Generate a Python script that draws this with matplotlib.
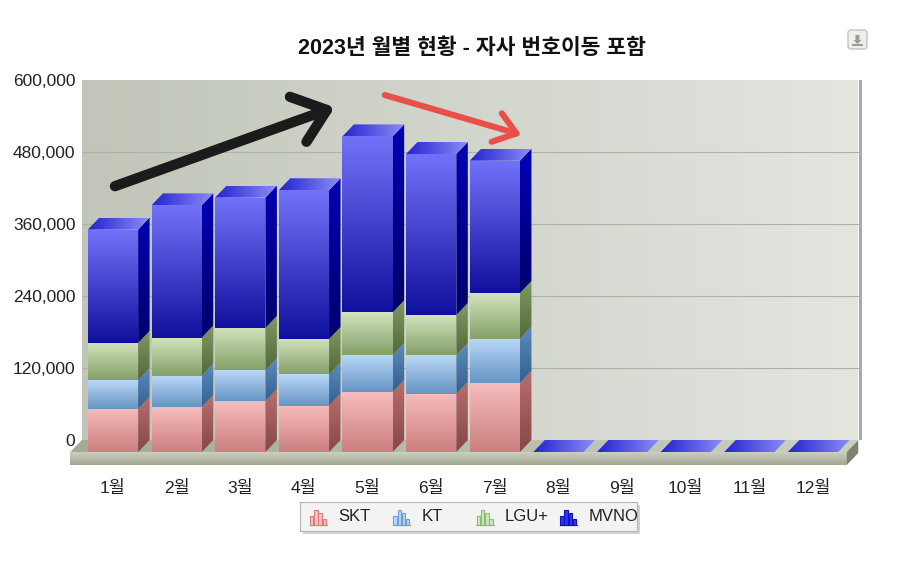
import numpy as np
import matplotlib
matplotlib.use("Agg")
import matplotlib.pyplot as plt
from matplotlib.patches import Polygon, Rectangle, FancyBboxPatch
from matplotlib.colors import LinearSegmentedColormap

plt.rcParams['font.family'] = ['Liberation Sans', 'Noto Sans CJK KR']

# ---- data ----
months = ['1월', '2월', '3월', '4월', '5월', '6월', '7월', '8월', '9월', '10월', '11월', '12월']
skt = [72300, 75000, 85000, 77300, 100000, 96700, 115000, 0, 0, 0, 0, 0]
kt = [47200, 52300, 51100, 52200, 61700, 65000, 73800, 0, 0, 0, 0, 0]
lgu = [62200, 63400, 70600, 58800, 71000, 66600, 76200, 0, 0, 0, 0, 0]
mvno = [189000, 220400, 217300, 247900, 293300, 268400, 220500, 0, 0, 0, 0, 0]
series_names = ['SKT', 'KT', 'LGU+', 'MVNO']
y_ticks = [0, 120000, 240000, 360000, 480000, 600000]
title = '2023년 월별 현황 - 자사 번호이동 포함'

# colours: front (top, bottom), side (top, bottom), legend icon (fill, edge)
styles = [
    dict(front=('#f6bcbc', '#cc7f7f'), side=('#b86e6e', '#874646'), icon=('#f5c4c4', '#dc7a7a')),
    dict(front=('#bad9f8', '#6694c4'), side=('#5a8cc0', '#34608c'), icon=('#bcd7f3', '#6aa0dc')),
    dict(front=('#d3e3bd', '#84a068'), side=('#7f9a62', '#53683a'), icon=('#d0e5c0', '#8cbd70')),
    dict(front=('#7272f9', '#10109e'), side=('#0000b4', '#00006c'), icon=('#3434e4', '#1010c0')),
]
TOP_FACE = ('#2323d2', '#8c8cf6')

W = 0.79        # bar width (category units)
DX = 0.18       # 3d depth, x
DY = 20000      # 3d depth, y
SLAB = 21667    # floor slab thickness
WALL_L, WALL_R = -0.49, 11.71
FLOOR_L, FLOOR_R = -0.67, 11.53


def grad(ax, xy, c_lo, c_hi, horizontal=False, z=2):
    xy = np.asarray(xy, float)
    clip = Polygon(xy, closed=True, transform=ax.transData)
    ramp = np.linspace(0, 1, 128)
    arr = ramp[None, :] if horizontal else ramp[:, None]
    cmap = LinearSegmentedColormap.from_list('g', [c_lo, c_hi])
    im = ax.imshow(arr, cmap=cmap, origin='lower', aspect='auto', interpolation='bilinear',
                   extent=(xy[:, 0].min(), xy[:, 0].max(), xy[:, 1].min(), xy[:, 1].max()), zorder=z)
    im.set_clip_path(clip)
    return im


fig = plt.figure(figsize=(9, 5.7), dpi=100)
ax = fig.add_axes([70.36 / 900, 105 / 570, 793.6 / 900, 385 / 570])

# back wall + grid
grad(ax, [(WALL_L, DY), (WALL_R, DY), (WALL_R, 600000 + DY), (WALL_L, 600000 + DY)],
     '#c1c6b9', '#e3e5df', horizontal=True, z=1)
for g in y_ticks[1:-1]:
    ax.plot([WALL_L, WALL_R], [g + DY, g + DY], color='#aeb2a6', lw=0.8, zorder=1.5)
ax.plot([WALL_R + 0.03, WALL_R + 0.03], [DY + 3000, 600000 + DY - 2000], color='#a9aaa6', lw=2.2, zorder=1.4)

# floor
grad(ax, [(FLOOR_L, 0), (FLOOR_R, 0), (WALL_R, DY), (WALL_L, DY)], '#a2ab96', '#ccd0c2', horizontal=True, z=2)
grad(ax, [(FLOOR_L, -SLAB), (FLOOR_R, -SLAB), (FLOOR_R, 0), (FLOOR_L, 0)], '#a2a892', '#cfd2c6', z=2)
ax.add_patch(Polygon([(FLOOR_R, -SLAB), (WALL_R, -SLAB + DY), (WALL_R, DY), (FLOOR_R, 0)],
                     closed=True, facecolor='#7d846e', edgecolor='none', zorder=2))

# stacked 3d bars
for i in range(len(months)):
    x0, x1 = i - W / 2, i + W / 2
    bottom = 0
    for vals, st in zip([skt, kt, lgu, mvno], styles):
        v = vals[i]
        if v <= 0:
            continue
        top = bottom + v
        grad(ax, [(x0, bottom), (x1, bottom), (x1, top), (x0, top)], st['front'][1], st['front'][0], z=3)
        grad(ax, [(x1, bottom), (x1 + DX, bottom + DY), (x1 + DX, top + DY), (x1, top)],
             st['side'][1], st['side'][0], z=3)
        bottom = top
    grad(ax, [(x0, bottom), (x1, bottom), (x1 + DX, bottom + DY), (x0 + DX, bottom + DY)],
         TOP_FACE[0], TOP_FACE[1], horizontal=True, z=3)

# hand-drawn arrows on top of the chart
black_arrow = [[(0.03, 443000), (3.36, 570000)], [(2.78, 592000), (3.36, 570000), (3.04, 517000)]]
red_arrow = [[(4.27, 595000), (6.34, 531000)], [(6.11, 564500), (6.34, 531000), (5.95, 517000)]]
for segs, col, lw in [(black_arrow, '#1b1b1b', 7.4), (red_arrow, '#e9504a', 4.4)]:
    for seg in segs:
        xs, ys = zip(*seg)
        ax.plot(xs, ys, color=col, lw=lw, solid_capstyle='round', solid_joinstyle='round', zorder=6)

ax.set_xlim(FLOOR_L, 11.8)
ax.set_ylim(-SLAB, 600000 + DY)
ax.set_aspect('auto')
for s in ax.spines.values():
    s.set_visible(False)
ax.set_xticks(range(len(months)))
ax.set_xticklabels(months)
ax.set_yticks([g + DY for g in y_ticks])
ax.set_yticklabels([f'{g:,}' for g in y_ticks])
ax.tick_params(axis='x', length=0, pad=11, labelsize=12.5, colors='#222222')
ax.tick_params(axis='y', length=0, pad=-3.6, labelsize=12.5, colors='#222222')

fig.text(472 / 900, 1 - 48 / 570, title, ha='center', va='center', fontsize=15.5,
         fontweight='bold', color='#111111')

# legend
fig.patches.append(Rectangle((303 / 900, 1 - 534 / 570), 337 / 900, 29 / 570,
                             transform=fig.transFigure, facecolor='#d2d2d2', edgecolor='none', zorder=-1))
lax = fig.add_axes([300 / 900, 1 - 531 / 570, 337 / 900, 29 / 570])
lax.set_zorder(2)
lax.set_xlim(0, 337)
lax.set_ylim(29, 0)
lax.set_xticks([])
lax.set_yticks([])
lax.patch.set_facecolor('#f3f3f1')
for s in lax.spines.values():
    s.set_color('#b5b5b5')
icon_heights = [0.55, 1.0, 0.75, 0.35]
for k, (name, st) in enumerate(zip(series_names, styles)):
    ix = 10 + k * 83.4
    for j, h in enumerate(icon_heights):
        lax.add_patch(Rectangle((ix + j * 4.2, 22.5), 3.3, -15 * h, facecolor=st['icon'][0],
                                edgecolor=st['icon'][1], lw=0.8))
    lax.plot([ix - 0.5, ix + 17], [22.5, 22.5], color=st['icon'][1], lw=0.8)
    lax.text(ix + 28, 14.5, name, ha='left', va='center', fontsize=12, color='#222222')

# export button
bax = fig.add_axes([846 / 900, 1 - 51 / 570, 23 / 900, 23 / 570])
bax.set_xlim(0, 23)
bax.set_ylim(0, 23)
bax.axis('off')
bax.add_patch(FancyBboxPatch((2, 2), 19, 19, boxstyle='round,pad=0,rounding_size=3',
                             facecolor='#eeeeee', edgecolor='#c4c4c4', lw=1))
bax.add_patch(Polygon([(9.5, 16), (13.5, 16), (13.5, 11), (15.5, 11), (11.5, 7), (7.5, 11), (9.5, 11)],
                      closed=True, facecolor='#9b9d8f', edgecolor='none'))
bax.add_patch(Rectangle((6, 5), 11, 2.2, facecolor='#9b9d8f', edgecolor='none'))

fig.savefig('out.png', dpi=100, facecolor='white')
